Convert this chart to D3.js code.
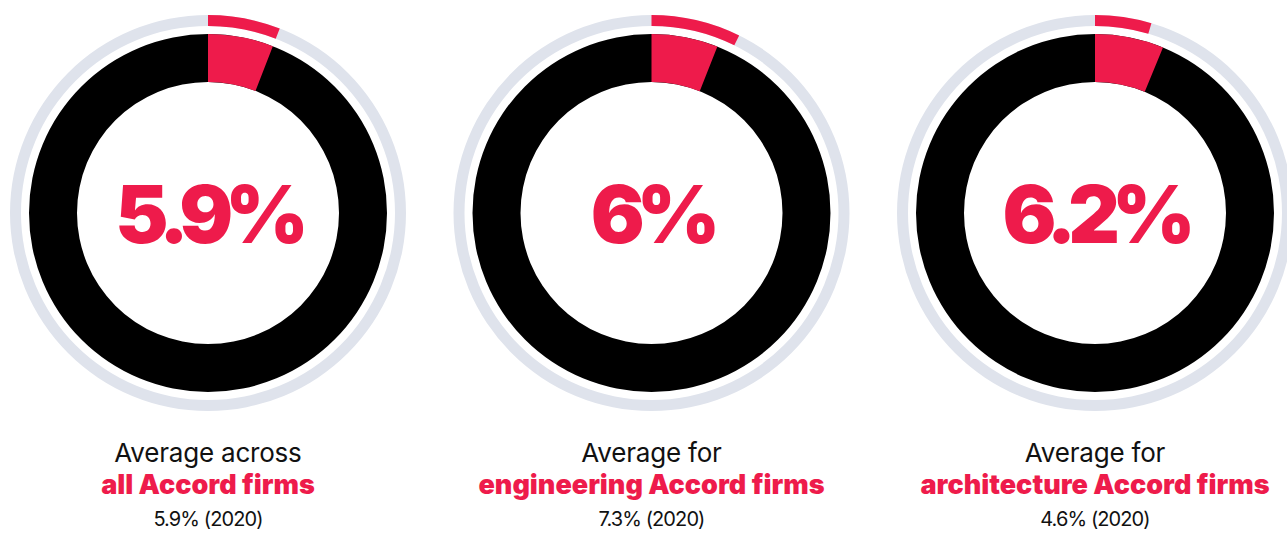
<!DOCTYPE html>
<html>
<head>
<meta charset="utf-8">
<script src="https://cdn.jsdelivr.net/npm/d3@7"></script>
<style>
  html, body { margin: 0; padding: 0; background: #ffffff; }
  svg { display: block; }
</style>
</head>
<body>
<svg id="chart" width="1287" height="533"></svg>
<script>
// Share of revenue figures per firm group
const groupPrefixes = ["Average across", "Average for", "Average for"];
const groupNames = ["all Accord firms", "engineering Accord firms", "architecture Accord firms"];
const currentValues = [5.9, 6, 6.2];
const priorValues = [5.9, 7.3, 4.6];
const priorYear = "2020";

const W = 1287, H = 533;
const RED = "#ee1b4b";
const TRACK = "#dfe3ec";

const svg = d3.select("#chart");

// Horizontal placement of the three rings
const x = d3.scalePoint()
  .domain(d3.range(groupNames.length))
  .range([208, 1095]);

// Percent to angle around the full circle
const angle = d3.scaleLinear().domain([0, 100]).range([0, 2 * Math.PI]);

const cy = 213;
const inner = { r0: 131, r1: 179 };
const outer = { r0: 187, r1: 198 };

const innerArc = d3.arc().innerRadius(inner.r0).outerRadius(inner.r1);
const outerArc = d3.arc().innerRadius(outer.r0).outerRadius(outer.r1);

const fmt = v => `${v}%`;

const g = svg.selectAll("g.donut")
  .data(groupNames.map((name, i) => ({
    name, prefix: groupPrefixes[i], cur: currentValues[i], prev: priorValues[i], i
  })))
  .join("g")
  .attr("class", "donut")
  .attr("transform", d => `translate(${x(d.i)},${cy})`);

// Thin ring: prior year
g.append("path")
  .attr("fill", TRACK)
  .attr("d", outerArc({ startAngle: 0, endAngle: 2 * Math.PI }));
g.append("path")
  .attr("fill", RED)
  .attr("d", d => outerArc({ startAngle: 0, endAngle: angle(d.prev) }));

// Thick ring: current value
g.append("path")
  .attr("fill", "#000000")
  .attr("d", innerArc({ startAngle: 0, endAngle: 2 * Math.PI }));
g.append("path")
  .attr("fill", RED)
  .attr("d", d => innerArc({ startAngle: 0, endAngle: angle(d.cur) }));

// Big value in the middle
g.append("text")
  .attr("text-anchor", "middle")
  .attr("y", 30)
  .attr("fill", RED)
  .style("font-family", "Inter, 'Noto Sans', sans-serif")
  .style("font-weight", 900)
  .style("font-size", "80px")
  .style("letter-spacing", "-8px")
  .text(d => fmt(d.cur));

// Captions below
const cap = g.append("g").attr("transform", `translate(0,${462 - cy})`);
cap.append("text")
  .attr("text-anchor", "middle")
  .attr("fill", "#111111")
  .style("font-family", "Inter, 'Noto Sans', sans-serif")
  .style("font-weight", 400)
  .style("font-size", "26px")
  .style("letter-spacing", "-0.2px")
  .text(d => d.prefix);
cap.append("text")
  .attr("text-anchor", "middle")
  .attr("y", 32)
  .attr("fill", RED)
  .style("font-family", "Inter, 'Noto Sans', sans-serif")
  .style("font-weight", 900)
  .style("font-size", "27px")
  .style("letter-spacing", "0px")
  .text(d => d.name);
cap.append("text")
  .attr("text-anchor", "middle")
  .attr("y", 64)
  .attr("fill", "#111111")
  .style("font-family", "Inter, 'Noto Sans', sans-serif")
  .style("font-weight", 400)
  .style("font-size", "20px")
  .style("letter-spacing", "-0.9px")
  .text(d => `${fmt(d.prev)} (${priorYear})`);
</script>
</body>
</html>
